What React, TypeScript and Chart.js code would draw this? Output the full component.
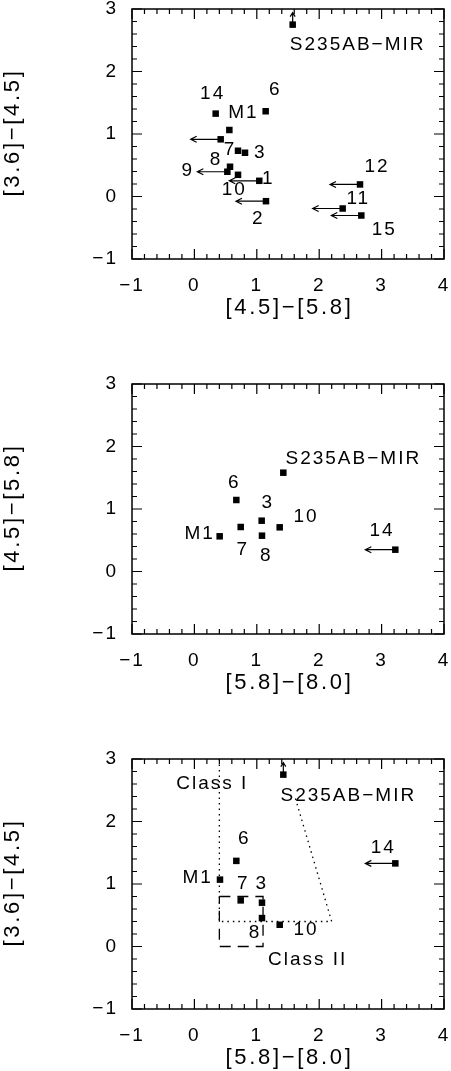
import React, { useEffect, useRef } from "react";
import { Chart, registerables } from "chart.js";
Chart.register(...registerables);

// ---------- Panel 1: [4.5]-[5.8] vs [3.6]-[4.5] ----------
const P1_NAMES = ["S235AB−MIR", "14", "6", "M1", "", "7", "3", "8", "9", "10", "1", "2", "12", "11", "15"];
const P1_X = [1.575, 0.341, 1.142, 0.56, 0.421, 0.699, 0.811, 0.571, 0.528, 0.699, 1.04, 1.147, 2.654, 2.376, 2.675];
const P1_Y = [2.75, 1.326, 1.364, 1.064, 0.915, 0.732, 0.70, 0.476, 0.396, 0.347, 0.251, -0.075, 0.193, -0.192, -0.304];
const P1_LIMIT = ["up", "", "", "", "left", "", "", "", "left", "", "left", "left", "left", "left", "left"];
const P1_LDX = [64, -4, 8.6, 13, 0, -9, 14.3, -15, -40.6, -4.7, 8, -8.7, 16, 14.6, 22];
const P1_LDY = [20, -19.4, -21.3, -17.3, 0, -1, 0, -7.4, -1, 15.3, -2, 17.3, -17.6, -9.3, 14.7];

// ---------- Panel 2: [5.8]-[8.0] vs [4.5]-[5.8] ----------
const P2_NAMES = ["S235AB−MIR", "6", "3", "10", "7", "8", "M1", "14"];
const P2_X = [1.425, 0.672, 1.078, 1.367, 0.742, 1.083, 0.405, 3.22];
const P2_Y = [1.581, 1.144, 0.813, 0.707, 0.712, 0.573, 0.563, 0.349];
const P2_LIMIT = ["", "", "", "", "", "", "", "left"];
const P2_LDX = [69, -3, 5, 25.3, 1, 3.3, -21, -14.3];
const P2_LDY = [-14.4, -17.3, -18, -10.6, 22.3, 20.3, -3, -19];

// ---------- Panel 3: [5.8]-[8.0] vs [3.6]-[4.5] ----------
const P3_NAMES = ["S235AB−MIR", "6", "M1", "7", "3", "8", "10", "14"];
const P3_X = [1.425, 0.672, 0.41, 0.742, 1.083, 1.083, 1.367, 3.22];
const P3_Y = [2.75, 1.37, 1.07, 0.738, 0.701, 0.455, 0.348, 1.33];
const P3_LIMIT = ["up", "", "", "", "", "", "", "left"];
const P3_LDX = [64, 7, -23.3, 1.6, -1.3, -8, 25.3, -13];
const P3_LDY = [20.7, -22, -2.3, -17, -18.7, 14.4, 5.3, -15.4];

// Class regions (panel 3)
const CLASS_I_X = [0.4, 0.4, 2.2, 1.61];
const CLASS_I_Y = [3, 0.4, 0.4, 2.4];
const CLASS_II_X = [0.4, 1.1, 1.1, 0.4, 0.4];
const CLASS_II_Y = [0.8, 0.8, 0, 0, 0.8];
const REGION_TEXT = ["Class I", "Class II"];
const REGION_TEXT_X = [0.271, 1.8];
const REGION_TEXT_Y = [2.605, -0.218];

const X_MIN = -1, X_MAX = 4, Y_MIN = -1, Y_MAX = 3;

const FONT = '"Liberation Sans", Arial, sans-serif';

type Panel = {
  names: string[]; xs: number[]; ys: number[]; limits: string[];
  ldx: number[]; ldy: number[]; xTitle: string; yTitle: string; top: number; regions?: boolean;
};

const PANELS: Panel[] = [
  { names: P1_NAMES, xs: P1_X, ys: P1_Y, limits: P1_LIMIT, ldx: P1_LDX, ldy: P1_LDY, xTitle: "[4.5]−[5.8]", yTitle: "[3.6]−[4.5]", top: 9 },
  { names: P2_NAMES, xs: P2_X, ys: P2_Y, limits: P2_LIMIT, ldx: P2_LDX, ldy: P2_LDY, xTitle: "[5.8]−[8.0]", yTitle: "[4.5]−[5.8]", top: 384 },
  { names: P3_NAMES, xs: P3_X, ys: P3_Y, limits: P3_LIMIT, ldx: P3_LDX, ldy: P3_LDY, xTitle: "[5.8]−[8.0]", yTitle: "[3.6]−[4.5]", top: 759, regions: true },
];

const fmt = (v: number) => (v < 0 ? "−" + Math.abs(v) : String(v));

function makeOverlay(p: Panel) {
  return {
    id: "overlay",
    beforeDraw(chart: any) {
      chart.ctx.letterSpacing = "2px";
    },
    afterDraw(chart: any) {
      const ctx = chart.ctx as CanvasRenderingContext2D;
      const xs = chart.scales.x, ys = chart.scales.y;
      const { left, right, top, bottom } = chart.chartArea;
      ctx.save();
      ctx.strokeStyle = "#000";
      ctx.fillStyle = "#000";
      ctx.lineWidth = 1.5;
      ctx.strokeRect(left, top, right - left, bottom - top);
      ctx.lineWidth = 1.2;
      ctx.beginPath();
      for (let i = 0; i <= 25; i++) {
        const v = X_MIN + i * 0.2;
        const px = xs.getPixelForValue(v);
        const len = i % 5 === 0 ? 10 : 5;
        ctx.moveTo(px, top); ctx.lineTo(px, top + len);
        ctx.moveTo(px, bottom); ctx.lineTo(px, bottom - len);
      }
      for (let i = 0; i <= 20; i++) {
        const v = Y_MIN + i * 0.2;
        const py = ys.getPixelForValue(v);
        const len = i % 5 === 0 ? 10 : 5;
        ctx.moveTo(left, py); ctx.lineTo(left + len, py);
        ctx.moveTo(right, py); ctx.lineTo(right - len, py);
      }
      ctx.stroke();

      // region boundaries
      if (p.regions) {
        ctx.lineWidth = 1.3;
        ctx.setLineDash([1.5, 4]);
        ctx.beginPath();
        CLASS_I_X.forEach((x, i) => {
          const px = xs.getPixelForValue(x), py = ys.getPixelForValue(CLASS_I_Y[i]);
          if (i === 0) ctx.moveTo(px, py); else ctx.lineTo(px, py);
        });
        ctx.stroke();
        ctx.setLineDash([11, 7]);
        ctx.beginPath();
        CLASS_II_X.forEach((x, i) => {
          const px = xs.getPixelForValue(x), py = ys.getPixelForValue(CLASS_II_Y[i]);
          if (i === 0) ctx.moveTo(px, py); else ctx.lineTo(px, py);
        });
        ctx.stroke();
        ctx.setLineDash([]);
      }

      // limit arrows
      ctx.lineWidth = 1.2;
      p.xs.forEach((x, i) => {
        const lim = p.limits[i];
        if (!lim) return;
        const px = xs.getPixelForValue(x), py = ys.getPixelForValue(p.ys[i]);
        ctx.beginPath();
        if (lim === "left") {
          const tip = px - 30;
          ctx.moveTo(px, py); ctx.lineTo(tip, py);
          ctx.moveTo(tip + 6, py - 3); ctx.lineTo(tip, py); ctx.lineTo(tip + 6, py + 3);
        } else if (lim === "up") {
          const tip = py - 12;
          ctx.moveTo(px, py); ctx.lineTo(px, tip);
          ctx.moveTo(px - 2.5, tip + 4); ctx.lineTo(px, tip); ctx.lineTo(px + 2.5, tip + 4);
        }
        ctx.stroke();
      });

      // labels
      ctx.font = `19px ${FONT}`;
      ctx.letterSpacing = "2px";
      ctx.textAlign = "center";
      ctx.textBaseline = "middle";
      p.names.forEach((n, i) => {
        if (!n) return;
        const px = xs.getPixelForValue(p.xs[i]), py = ys.getPixelForValue(p.ys[i]);
        ctx.fillText(n, px + p.ldx[i] + 1, py + p.ldy[i]);
      });
      if (p.regions) {
        REGION_TEXT.forEach((t, i) => {
          ctx.fillText(t, xs.getPixelForValue(REGION_TEXT_X[i]) + 1, ys.getPixelForValue(REGION_TEXT_Y[i]));
        });
      }

      // axis titles
      ctx.font = `22px ${FONT}`;
      ctx.letterSpacing = "2.7px";
      ctx.fillText(p.xTitle, (left + right) / 2 + 1.5, bottom + 49);
      ctx.save();
      ctx.translate(13, (top + bottom) / 2);
      ctx.rotate(-Math.PI / 2);
      ctx.fillText(p.yTitle, 1.5, 0);
      ctx.restore();
      ctx.restore();
    },
  };
}

const zeroPad = (s: any) => {
  s.paddingLeft = 0; s.paddingRight = 0; s.paddingTop = 0; s.paddingBottom = 0;
};

function PanelChart({ p }: { p: Panel }) {
  const ref = useRef<HTMLCanvasElement | null>(null);
  useEffect(() => {
    if (!ref.current) return;
    const chart = new Chart(ref.current, {
      type: "scatter",
      data: {
        datasets: [{
          data: p.xs.map((x, i) => ({ x, y: p.ys[i] })),
          pointStyle: "rect",
          pointRadius: 4.6,
          pointHoverRadius: 4.6,
          backgroundColor: "#000",
          borderColor: "#000",
          borderWidth: 0,
        }],
      },
      options: {
        responsive: false,
        animation: false,
        events: [],
        layout: { autoPadding: false, padding: { top: 10, right: 7, left: 0, bottom: 0 } },
        plugins: { legend: { display: false }, tooltip: { enabled: false } },
        scales: {
          x: {
            type: "linear", min: X_MIN, max: X_MAX,
            grid: { display: false, drawTicks: false },
            border: { display: false },
            ticks: { stepSize: 1, padding: 17, color: "#000", font: { family: FONT, size: 19, lineHeight: 1 }, callback: (v: any) => fmt(Number(v)), maxRotation: 0, autoSkip: false },
            title: { display: false, text: p.xTitle },
            afterFit: (s: any) => { s.height = 71; zeroPad(s); },
          },
          y: {
            type: "linear", min: Y_MIN, max: Y_MAX,
            grid: { display: false, drawTicks: false },
            border: { display: false },
            ticks: { stepSize: 1, padding: 14, color: "#000", font: { family: FONT, size: 19, lineHeight: 1 }, callback: (v: any) => fmt(Number(v)) },
            title: { display: false, text: p.yTitle },
            afterFit: (s: any) => { s.width = 132; zeroPad(s); },
          },
        },
      },
      plugins: [makeOverlay(p)],
    } as any);
    return () => chart.destroy();
  }, [p]);
  return (
    <canvas
      ref={ref}
      width={451}
      height={331}
      style={{ position: "absolute", left: 0, top: p.top - 10, width: 451, height: 331 }}
    />
  );
}

export default function App() {
  return (
    <div style={{ position: "absolute", left: 0, top: 0, width: 451, height: 1071, overflow: "hidden", background: "#fff" }}>
      {PANELS.map((p, i) => <PanelChart key={i} p={p} />)}
    </div>
  );
}
